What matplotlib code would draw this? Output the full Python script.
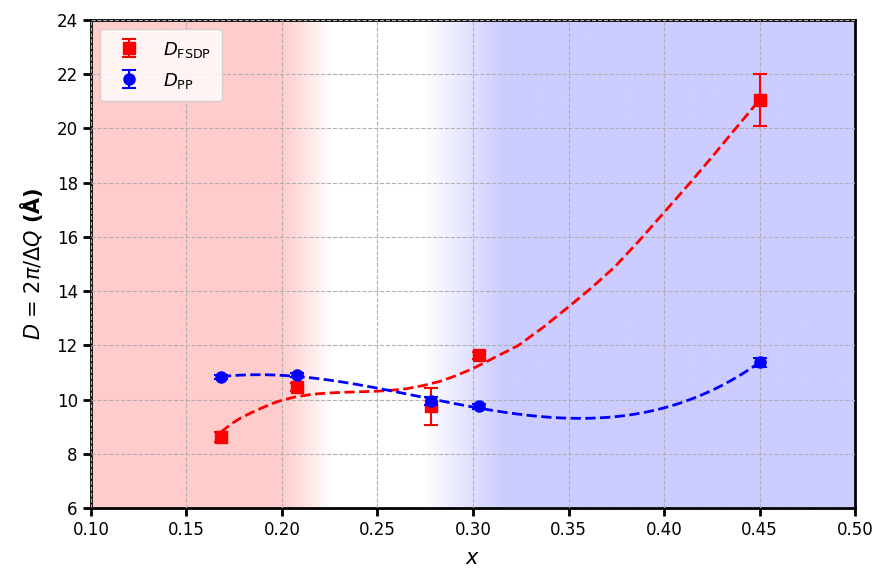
import numpy as np
import matplotlib
matplotlib.use("Agg")
import matplotlib.pyplot as plt
from matplotlib.ticker import FormatStrFormatter

OUTPUT_FILE = "out.png"

# composition and fitted widths
x_vals = [0.168, 0.208, 0.278, 0.303, 0.450]
d_fsdp = [8.62, 10.46, 9.75, 11.63, 21.05]
d_fsdp_err = [0.20, 0.15, 0.67, 0.12, 0.95]
d_pp = [10.83, 10.90, 9.94, 9.75, 11.37]
d_pp_err = [0.08, 0.08, 0.15, 0.08, 0.15]

# guide curve for D_FSDP
fsdp_curve_x = [0.168, 0.173, 0.178, 0.184, 0.189, 0.195, 0.200, 0.207, 0.215,
                0.223, 0.232, 0.241, 0.250, 0.258, 0.265, 0.274, 0.283, 0.291,
                0.300, 0.306, 0.312, 0.318, 0.324, 0.337, 0.350, 0.362, 0.374,
                0.387, 0.400, 0.414, 0.426, 0.438, 0.450]
fsdp_curve_y = [8.80, 9.08, 9.31, 9.52, 9.68, 9.86, 9.98, 10.10, 10.19,
                10.24, 10.27, 10.29, 10.31, 10.35, 10.40, 10.52, 10.68, 10.88,
                11.15, 11.36, 11.58, 11.79, 12.01, 12.68, 13.42, 14.12, 14.88,
                15.86, 16.90, 18.02, 19.02, 20.04, 21.05]

fig, ax = plt.subplots(figsize=(8.8, 5.69), dpi=100)
fig.subplots_adjust(left=0.1034, right=0.9716, top=0.965, bottom=0.107)

# shaded background: red on the left, blue on the right, white in between
xs = np.linspace(0.1, 0.5, 800)
img = np.ones((2, xs.size, 3))
red_w = np.clip((0.226 - xs) / (0.226 - 0.200), 0, 1)
blue_w = np.clip((xs - 0.274) / (0.316 - 0.274), 0, 1)
red = np.array([1.0, 0.8, 0.8])
blue = np.array([0.8, 0.8, 1.0])
white = np.ones(3)
for i in range(xs.size):
    img[:, i, :] = white + red_w[i] * (red - white) + blue_w[i] * (blue - white)
ax.imshow(img, extent=[0.1, 0.5, 6, 24], aspect="auto", zorder=0, interpolation="bilinear")

# guide lines
xf = np.linspace(min(x_vals), max(x_vals), 300)
pp = np.polyfit(x_vals, d_pp, 3)
ax.plot(fsdp_curve_x, fsdp_curve_y, "--", color="red", lw=2, zorder=3)
ax.plot(xf, np.polyval(pp, xf), "--", color="blue", lw=2, zorder=3)

ax.errorbar(x_vals, d_fsdp, yerr=d_fsdp_err, fmt="s", color="red", ms=9,
            capsize=5, elinewidth=1.5, capthick=1.5, label=r"$D_{\mathrm{FSDP}}$", zorder=4)
ax.errorbar(x_vals, d_pp, yerr=d_pp_err, fmt="o", color="blue", ms=8,
            capsize=5, elinewidth=1.5, capthick=1.5, label=r"$D_{\mathrm{PP}}$", zorder=5)

ax.set_xlim(0.1, 0.5)
ax.set_ylim(6, 24)
ax.set_xticks(np.arange(0.10, 0.501, 0.05))
ax.set_yticks(np.arange(6, 24.1, 2))
ax.xaxis.set_major_formatter(FormatStrFormatter("%.2f"))
ax.grid(True, linestyle="--", color="#b0b0b0", lw=0.8, zorder=1)
ax.set_axisbelow(False)

ax.set_xlabel(r"$x$", fontsize=15, labelpad=6)
ax.set_ylabel(r"$D$ = 2$\pi$/$\Delta Q$ $\mathbf{(Å)}$", fontsize=15, labelpad=8)
ax.tick_params(labelsize=12, width=2, length=6)
for s in ax.spines.values():
    s.set_linewidth(2)

ax.legend(loc="upper left", fontsize=13, borderpad=0.6, handletextpad=0.9,
          labelspacing=0.6, fancybox=True, framealpha=0.8)

plt.savefig(OUTPUT_FILE, dpi=100)
